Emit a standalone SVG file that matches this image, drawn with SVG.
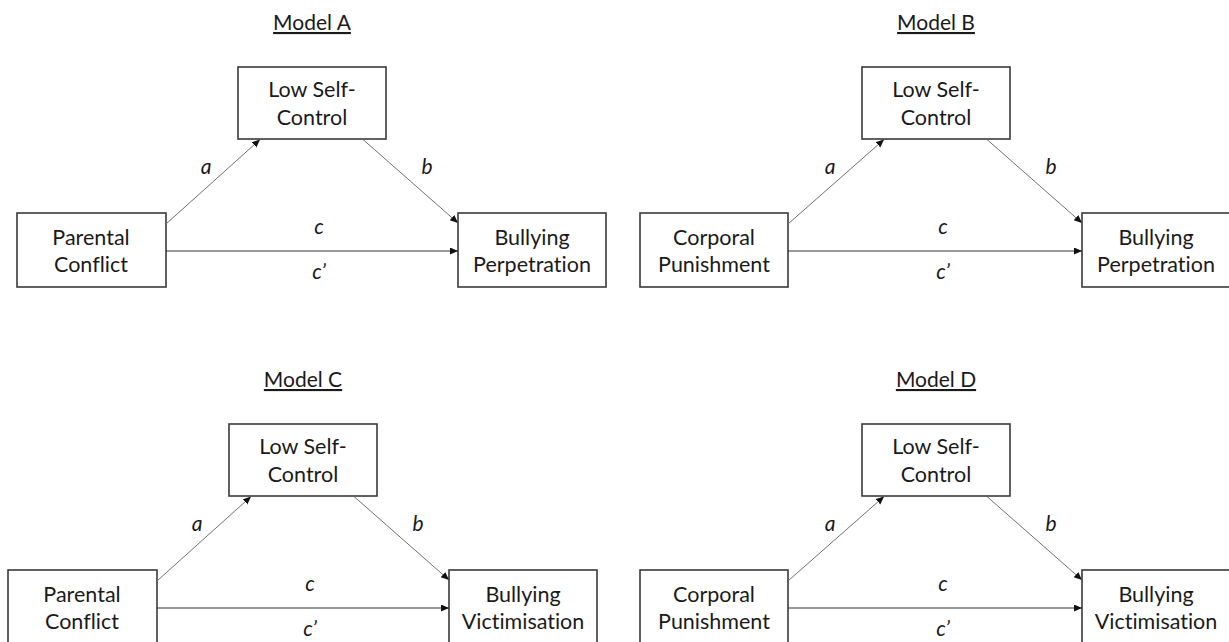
<svg xmlns="http://www.w3.org/2000/svg" width="1229" height="642" viewBox="0 0 1229 642">
<style>
.bg{fill:#ffffff}
.box{fill:#ffffff;stroke:#3a3a3a;stroke-width:1.6}
.t{font-family:Lato,"Open Sans","Liberation Sans",sans-serif;font-size:21.5px;fill:#1a1a1a;text-anchor:middle;font-variant-ligatures:none}
.title{font-size:21px;text-decoration:underline}
.lbl{font-family:Lato,"Open Sans","Liberation Sans",sans-serif;font-size:21px;font-style:italic;fill:#1a1a1a;text-anchor:middle}
.diag{stroke:#707070;stroke-width:1;fill:none}
.hor{stroke:#333333;stroke-width:1.2;fill:none}
</style>
<defs>
<marker id="ah" markerUnits="userSpaceOnUse" markerWidth="9" markerHeight="8" refX="8" refY="3.5" orient="auto">
<path d="M0,0 L8,3.5 L0,7 z" fill="#111111"/>
</marker>
</defs>
<rect class="bg" x="0" y="0" width="1229" height="642"/>

<g id="modelA">
<text class="t title" x="312" y="30">Model A</text>
<g id="A-lsc"><rect class="box" x="238" y="67" width="148" height="72"/><text class="t" x="312" y="97">Low Self-</text><text class="t" x="312" y="125">Control</text></g>
<g id="A-pc"><rect class="box" x="17" y="213" width="149" height="74"/><text class="t" x="91" y="245">Parental</text><text class="t" x="91" y="272">Conflict</text></g>
<g id="A-bp"><rect class="box" x="458" y="213" width="148" height="74"/><text class="t" x="532" y="245">Bullying</text><text class="t" x="532" y="272">Perpetration</text></g>
<g id="A-connectors">
<line class="diag" x1="166" y1="224" x2="260" y2="139.5" marker-end="url(#ah)"/>
<line class="diag" x1="363" y1="139.5" x2="458" y2="223" marker-end="url(#ah)"/>
<line class="hor" x1="166" y1="251" x2="458" y2="251" marker-end="url(#ah)"/>
<text class="lbl" x="206" y="174">a</text>
<text class="lbl" x="427" y="174">b</text>
<text class="lbl" x="319" y="234">c</text>
<text class="lbl" x="319" y="279">c’</text>
</g>
</g>

<g id="modelB">
<text class="t title" x="936" y="30">Model B</text>
<g id="B-lsc"><rect class="box" x="862" y="67" width="148" height="72"/><text class="t" x="936" y="97">Low Self-</text><text class="t" x="936" y="125">Control</text></g>
<g id="B-cp"><rect class="box" x="640" y="213" width="148" height="74"/><text class="t" x="714" y="245">Corporal</text><text class="t" x="714" y="272">Punishment</text></g>
<g id="B-bp"><rect class="box" x="1082" y="213" width="148" height="74"/><text class="t" x="1156" y="245">Bullying</text><text class="t" x="1156" y="272">Perpetration</text></g>
<g id="B-connectors">
<line class="diag" x1="788" y1="224" x2="884" y2="139.5" marker-end="url(#ah)"/>
<line class="diag" x1="987" y1="139.5" x2="1082" y2="223" marker-end="url(#ah)"/>
<line class="hor" x1="788" y1="251" x2="1082" y2="251" marker-end="url(#ah)"/>
<text class="lbl" x="830" y="174">a</text>
<text class="lbl" x="1051" y="174">b</text>
<text class="lbl" x="943" y="234">c</text>
<text class="lbl" x="943" y="279">c’</text>
</g>
</g>

<g id="modelC">
<text class="t title" x="303" y="387">Model C</text>
<g id="C-lsc"><rect class="box" x="229" y="424" width="148" height="72"/><text class="t" x="303" y="454">Low Self-</text><text class="t" x="303" y="482">Control</text></g>
<g id="C-pc"><rect class="box" x="8" y="570" width="149" height="74"/><text class="t" x="82" y="602">Parental</text><text class="t" x="82" y="629">Conflict</text></g>
<g id="C-bv"><rect class="box" x="449" y="570" width="148" height="74"/><text class="t" x="523" y="602">Bullying</text><text class="t" x="523" y="629">Victimisation</text></g>
<g id="C-connectors">
<line class="diag" x1="157" y1="581" x2="251" y2="496.5" marker-end="url(#ah)"/>
<line class="diag" x1="354" y1="496.5" x2="449" y2="580" marker-end="url(#ah)"/>
<line class="hor" x1="157" y1="608" x2="449" y2="608" marker-end="url(#ah)"/>
<text class="lbl" x="197" y="531">a</text>
<text class="lbl" x="418" y="531">b</text>
<text class="lbl" x="310" y="591">c</text>
<text class="lbl" x="310" y="636">c’</text>
</g>
</g>

<g id="modelD">
<text class="t title" x="936" y="387">Model D</text>
<g id="D-lsc"><rect class="box" x="862" y="424" width="148" height="72"/><text class="t" x="936" y="454">Low Self-</text><text class="t" x="936" y="482">Control</text></g>
<g id="D-cp"><rect class="box" x="640" y="570" width="148" height="74"/><text class="t" x="714" y="602">Corporal</text><text class="t" x="714" y="629">Punishment</text></g>
<g id="D-bv"><rect class="box" x="1082" y="570" width="148" height="74"/><text class="t" x="1156" y="602">Bullying</text><text class="t" x="1156" y="629">Victimisation</text></g>
<g id="D-connectors">
<line class="diag" x1="788" y1="581" x2="884" y2="496.5" marker-end="url(#ah)"/>
<line class="diag" x1="987" y1="496.5" x2="1082" y2="580" marker-end="url(#ah)"/>
<line class="hor" x1="788" y1="608" x2="1082" y2="608" marker-end="url(#ah)"/>
<text class="lbl" x="830" y="531">a</text>
<text class="lbl" x="1051" y="531">b</text>
<text class="lbl" x="943" y="591">c</text>
<text class="lbl" x="943" y="636">c’</text>
</g>
</g>
</svg>
